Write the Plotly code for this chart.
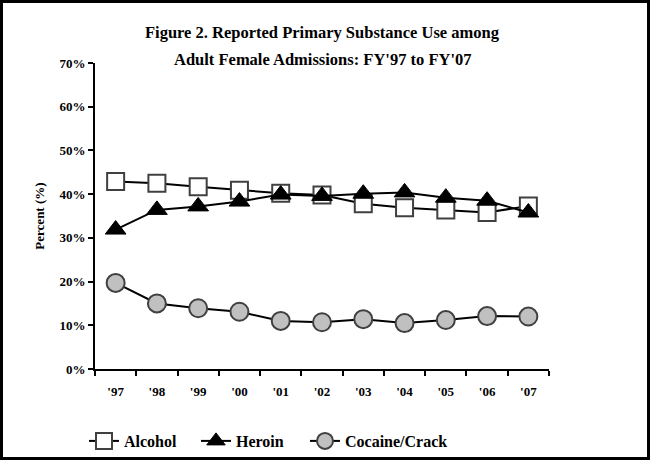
import plotly.graph_objects as go

years = ["'97", "'98", "'99", "'00", "'01", "'02", "'03", "'04", "'05", "'06", "'07"]
alcohol = [42.9, 42.5, 41.7, 40.9, 40.2, 39.8, 37.8, 36.9, 36.4, 35.8, 37.3]
heroin = [31.9, 36.4, 37.2, 38.3, 39.9, 39.6, 40.1, 40.4, 39.2, 38.5, 35.8]
cocaine = [19.7, 15.0, 13.9, 13.1, 11.0, 10.7, 11.4, 10.5, 11.2, 12.1, 12.0]
y_ticks = [0, 10, 20, 30, 40, 50, 60, 70]
y_tick_labels = ["0%", "10%", "20%", "30%", "40%", "50%", "60%", "70%"]

FONT = "Liberation Serif, Times New Roman, serif"

fig = go.Figure()
fig.add_trace(go.Scatter(
    x=years, y=alcohol, name="Alcohol", mode="lines+markers", legend="legend",
    line=dict(color="black", width=2),
    marker=dict(symbol="square", size=17, color="white", line=dict(color="#404040", width=2)),
))
fig.add_trace(go.Scatter(
    x=years, y=heroin, name="Heroin", mode="lines+markers", legend="legend2",
    line=dict(color="black", width=2),
    marker=dict(symbol="triangle-up", size=18, color="black", line=dict(color="black", width=1)),
))
fig.add_trace(go.Scatter(
    x=years, y=cocaine, name="Cocaine/Crack", mode="lines+markers", legend="legend3",
    line=dict(color="black", width=2),
    marker=dict(symbol="circle", size=18, color="#c0c0c0", line=dict(color="#404040", width=2)),
))

L, R, T, B = 95, 101, 63, 91
W, H = 650, 460
pw, ph = W - L - R, H - T - B

def px_x(p):
    return (p - L) / pw

def px_y(p):
    return (H - B - p) / ph

def leg(xpx):
    return dict(
        orientation="h", x=px_x(xpx), y=px_y(441), xanchor="left", yanchor="middle",
        font=dict(family=FONT, size=16, color="black", weight="bold"),
        bgcolor="rgba(0,0,0,0)", itemsizing="trace",
    )

fig.update_layout(
    width=W, height=H,
    margin=dict(l=L, r=R, t=T, b=B, autoexpand=False),
    paper_bgcolor="white", plot_bgcolor="white",
    font=dict(family=FONT, color="black", size=13, weight="bold"),
    showlegend=True,
    legend=leg(84), legend2=leg(196), legend3=leg(305),
    xaxis=dict(
        type="category", range=[-0.5, 10.5], showgrid=False, zeroline=False,
        showline=True, linecolor="black", linewidth=2,
        ticks="outside", tickson="boundaries", ticklen=5, tickwidth=2, tickcolor="black",
        ticklabelstandoff=9,
        tickfont=dict(family=FONT, size=13, weight="bold"),
    ),
    yaxis=dict(
        range=[0, 70], tickmode="array", tickvals=y_ticks, ticktext=y_tick_labels,
        showgrid=False, zeroline=False,
        showline=True, linecolor="black", linewidth=2,
        ticks="outside", ticklen=5, tickwidth=2, tickcolor="black",
        tickfont=dict(family=FONT, size=13, weight="bold"),
        title=dict(text="Percent (%)", font=dict(family=FONT, size=13, weight="bold"), standoff=12),
    ),
    annotations=[
        dict(text="Figure 2. Reported Primary Substance Use among", xref="paper", yref="paper",
             x=0.5, y=px_y(32.5), xanchor="center", yanchor="middle", showarrow=False,
             font=dict(family=FONT, size=16.5, weight="bold")),
        dict(text="Adult Female Admissions: FY'97 to FY'07", xref="paper", yref="paper",
             x=0.5, y=px_y(59.5), xanchor="center", yanchor="middle", showarrow=False,
             font=dict(family=FONT, size=16.5, weight="bold")),
    ],
    shapes=[
        dict(type="rect", xref="paper", yref="paper", layer="above",
             x0=px_x(1.5), x1=px_x(648.5), y0=px_y(458.5), y1=px_y(1.5),
             line=dict(color="black", width=3), fillcolor="rgba(0,0,0,0)"),
    ],
)

fig.write_html("out.html", config={"displayModeBar": False},
               post_script="document.body.style.margin='0';document.body.style.overflow='hidden';")
